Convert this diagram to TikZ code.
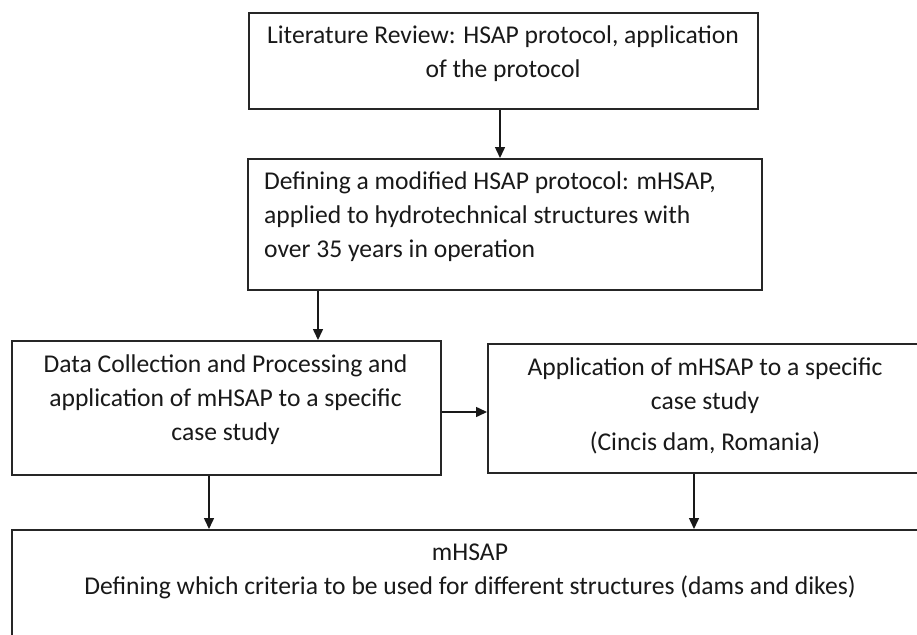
\documentclass[tikz,border=0pt]{standalone}
\usepackage{fontspec}
\setmainfont{Carlito}
\usetikzlibrary{arrows.meta}
\begin{document}
\begin{tikzpicture}[x=1pt,y=-1pt,
  box/.style={draw=black!85,line width=1.5pt,inner sep=0pt,anchor=north west},
  txt/.style={inner sep=0pt,font=\fontsize{25.6}{34}\selectfont,text=black!90},
  arr/.style={draw=black!90,line width=1.5pt,-{Triangle[length=11pt,width=10pt]}}]
\useasboundingbox (0,0) rectangle (917,634);
\clip (0,0) rectangle (917,634);
\fill[white] (0,0) rectangle (917,634);
% boxes
\node[box,minimum width=509pt,minimum height=95.5pt] (A) at (248,12.5) {};
\node[box,minimum width=514pt,minimum height=131pt] (B) at (247,158) {};
\node[box,minimum width=429pt,minimum height=134pt] (C) at (11,340) {};
\node[box,minimum width=445pt,minimum height=129pt] (D) at (487,343) {};
\node[box,minimum width=925pt,minimum height=140pt] (E) at (11,529) {};
% texts
\node[txt,align=center] (tA) at (503,54) {Literature Review: HSAP protocol, application\\of the protocol};
\node[txt,align=left,anchor=west] (tB) at (264,217) {Defining a modified HSAP protocol: mHSAP,\\applied to hydrotechnical structures with\\over 35 years in operation};
\node[txt,align=center] (tC) at (225.5,400) {Data Collection and Processing and\\application of mHSAP to a specific\\case study};
\node[txt,align=center] (tD) at (705,406) {Application of mHSAP to a specific\\case study\\[7pt](Cincis dam, Romania)};
\node[txt,align=center] (tE) at (470,571.5) {mHSAP\\Defining which criteria to be used for different structures (dams and dikes)};
% connectors
\coordinate (xa) at (500,0);
\coordinate (xb) at (318,0);
\coordinate (yc) at (0,412);
\coordinate (xc) at (209,0);
\coordinate (xd) at (694,0);
\draw[arr] (A.south -| xa) -- (B.north -| xa);
\draw[arr] (B.south -| xb) -- (C.north -| xb);
\draw[arr] (C.east |- yc) -- (D.west |- yc);
\draw[arr] (C.south -| xc) -- (E.north -| xc);
\draw[arr] (D.south -| xd) -- (E.north -| xd);
\end{tikzpicture}
\end{document}
